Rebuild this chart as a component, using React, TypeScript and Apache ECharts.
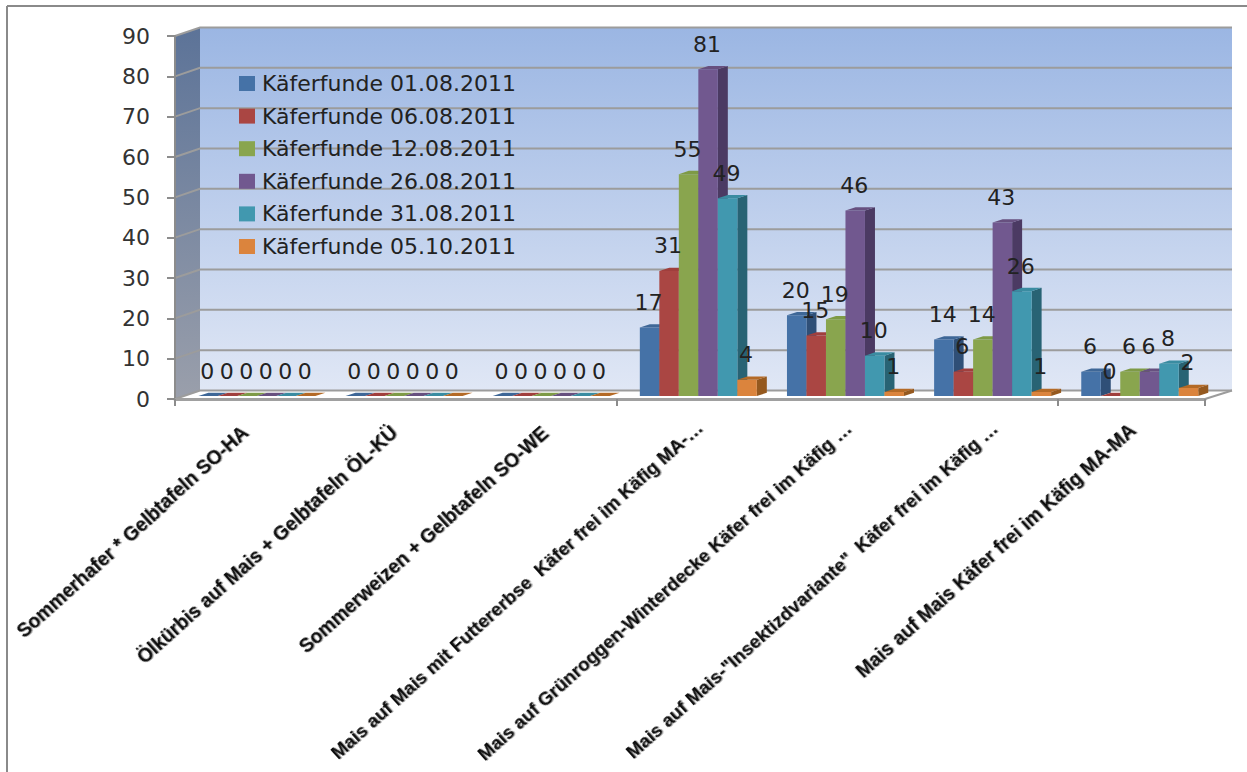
import React, { useEffect, useRef } from "react";
import * as echarts from "echarts";

const categories = [
  "Sommerhafer * Gelbtafeln SO-HA",
  "Ölkürbis auf Mais + Gelbtafeln ÖL-KÜ",
  "Sommerweizen + Gelbtafeln SO-WE",
  "Mais auf Mais mit Futtererbse  Käfer frei im Käfig MA-…",
  "Mais auf Grünroggen-Winterdecke Käfer frei im Käfig …",
  'Mais auf Mais-"Insektizdvariante"  Käfer frei im Käfig …',
  "Mais auf Mais Käfer frei im Käfig MA-MA",
];

const funde0108 = [0, 0, 0, 17, 20, 14, 6];
const funde0608 = [0, 0, 0, 31, 15, 6, 0];
const funde1208 = [0, 0, 0, 55, 19, 14, 6];
const funde2608 = [0, 0, 0, 81, 46, 43, 6];
const funde3108 = [0, 0, 0, 49, 10, 26, 8];
const funde0510 = [0, 0, 0, 4, 1, 1, 2];

const yTicks = [0, 10, 20, 30, 40, 50, 60, 70, 80, 90];

const seriesDefs = [
  { name: "Käferfunde 01.08.2011", values: funde0108, front: "#4572a7", side: "#2f4f77", top: "#3e6797" },
  { name: "Käferfunde 06.08.2011", values: funde0608, front: "#aa4643", side: "#7a302e", top: "#a03f3d" },
  { name: "Käferfunde 12.08.2011", values: funde1208, front: "#89a54e", side: "#617636", top: "#7e9a46" },
  { name: "Käferfunde 26.08.2011", values: funde2608, front: "#71588f", side: "#4b3a63", top: "#67507f" },
  { name: "Käferfunde 31.08.2011", values: funde3108, front: "#4198af", side: "#286374", top: "#3a8ca1" },
  { name: "Käferfunde 05.10.2011", values: funde0510, front: "#db843d", side: "#95591f", top: "#b46a26" },
];

// Oblique projection of the chart box: wall depth, bar depth and bar layout.
const WALL_DX = 25;
const WALL_DY = 8.5;
const BAR_LIFT = 3;
const BAR_DX = 10;
const BAR_DY = 3.3;
const BAR_INSET = 23.4;
const BAR_W = 19.5;
const LABEL_RISE = 25;

// Slanted category captions: angle, plus per-caption drop, sideways nudge and size.
const CAPTION_ANGLE = (42 * Math.PI) / 180;
const CAPTION_DROP = [31, 31, 31, 26, 26, 26, 28];
const CAPTION_NUDGE = [-3, -1, 2, 10, 11, 10, 1];
const CAPTION_SIZE = [19.3, 19.3, 19.3, 18.7, 18.7, 18.7, 19.3];

const GRID_COLOR = "#9c9c9c";

function wallItem(params: any, api: any) {
  const c = params.coordSys;
  const x0 = c.x;
  const x1 = c.x + c.width;
  const y0 = c.y;
  const y1 = c.y + c.height;
  return {
    type: "group",
    children: [
      {
        type: "polygon",
        shape: {
          points: [
            [x0 + WALL_DX, y0 - WALL_DY],
            [x1 + WALL_DX + 2, y0 - WALL_DY],
            [x1 + WALL_DX + 2, y1 - WALL_DY],
            [x0 + WALL_DX, y1 - WALL_DY],
          ],
        },
        style: {
          fill: new echarts.graphic.LinearGradient(0, 0, 0, 1, [
            { offset: 0, color: "#9bb6e3" },
            { offset: 1, color: "#e0e7f5" },
          ]),
        },
      },
      {
        type: "polygon",
        shape: {
          points: [
            [x0, y0],
            [x0 + WALL_DX, y0 - WALL_DY],
            [x0 + WALL_DX, y1 - WALL_DY],
            [x0, y1],
          ],
        },
        style: {
          fill: new echarts.graphic.LinearGradient(0, 0, 0, 1, [
            { offset: 0, color: "#5c7398" },
            { offset: 1, color: "#9a9fab" },
          ]),
        },
      },
      {
        type: "line",
        shape: { x1: x1, y1: y1, x2: x1 + WALL_DX + 2, y2: y1 - WALL_DY },
        style: { stroke: GRID_COLOR, lineWidth: 2 },
      },
    ],
  };
}

function gridLineItem(params: any, api: any) {
  const c = params.coordSys;
  const y = api.coord([0, api.value(1)])[1];
  return {
    type: "polyline",
    shape: {
      points: [
        [c.x, y],
        [c.x + WALL_DX, y - WALL_DY],
        [c.x + c.width + WALL_DX + 2, y - WALL_DY],
      ],
    },
    style: { stroke: GRID_COLOR, lineWidth: 2, fill: "none" },
  };
}

function barOrigin(api: any, slot: number) {
  const band = api.size([1, 0])[0];
  const center = api.coord([api.value(0), 0]);
  const x = center[0] - band / 2 + BAR_INSET + slot * BAR_W;
  return { x, base: center[1] - BAR_LIFT };
}

function barItem(slot: number, def: any) {
  return (params: any, api: any) => {
    const { x, base } = barOrigin(api, slot);
    const top = api.coord([api.value(0), api.value(1)])[1] - BAR_LIFT;
    const children: any[] = [];
    if (base - top > 0) {
      children.push(
        {
          type: "polygon",
          shape: {
            points: [
              [x + BAR_W, top],
              [x + BAR_W + BAR_DX, top - BAR_DY],
              [x + BAR_W + BAR_DX, base - BAR_DY],
              [x + BAR_W, base],
            ],
          },
          style: { fill: def.side },
        },
        { type: "rect", shape: { x, y: top, width: BAR_W, height: base - top }, style: { fill: def.front } },
      );
    }
    children.push({
      type: "polygon",
      shape: {
        points: [
          [x, top],
          [x + BAR_DX, top - BAR_DY],
          [x + BAR_W + BAR_DX, top - BAR_DY],
          [x + BAR_W, top],
        ],
      },
      style: { fill: def.top },
    });
    return { type: "group", children };
  };
}

function valueLabelItem(slot: number) {
  return (params: any, api: any) => {
    const { x } = barOrigin(api, slot);
    const top = api.coord([api.value(0), api.value(1)])[1] - BAR_LIFT;
    return {
      type: "text",
      style: {
        x: x + BAR_W / 2 - 1,
        y: top - LABEL_RISE,
        text: String(api.value(1)),
        fill: "#222222",
        font: '22px "DejaVu Sans"',
        align: "center",
        verticalAlign: "middle",
      },
    };
  };
}

function captionItem(params: any, api: any) {
  const i = api.value(0);
  const p = api.coord([i, 0]);
  return {
    type: "text",
    x: p[0] + CAPTION_NUDGE[i],
    y: p[1] + CAPTION_DROP[i],
    rotation: CAPTION_ANGLE,
    style: {
      text: categories[i],
      fill: "#0a0a0a",
      font: `bold ${CAPTION_SIZE[i]}px "Liberation Sans"`,
      align: "right",
      verticalAlign: "middle",
      textShadowColor: "rgba(0,0,0,0.35)",
      textShadowBlur: 1,
      textShadowOffsetX: 1,
      textShadowOffsetY: 1,
    },
  };
}

export default function App() {
  const ref = useRef<HTMLDivElement>(null);

  useEffect(() => {
    document.body.style.margin = "0";
    const chart = echarts.init(ref.current!, undefined, { renderer: "svg" });
    chart.setOption({
      animation: false,
      backgroundColor: "#ffffff",
      grid: { left: 175, right: 42, top: 36, bottom: 373, outerBoundsMode: "none" },
      legend: {
        show: true,
        orient: "vertical",
        left: 239,
        top: 72.5,
        padding: 0,
        z: 5,
        icon: "rect",
        itemWidth: 16,
        itemHeight: 15,
        itemGap: 10.6,
        textStyle: { fontFamily: "DejaVu Sans", fontSize: 22, color: "#222222", padding: [0, 0, 0, 2] },
        data: seriesDefs.map((d) => d.name),
        selectedMode: false,
      },
      xAxis: {
        type: "category",
        data: categories,
        z: 2,
        axisLine: { show: true, lineStyle: { color: "#a0a0a0", width: 3 } },
        axisTick: { show: true, length: 7, lineStyle: { color: "#8c8c8c", width: 2 } },
        axisLabel: { show: false },
      },
      yAxis: {
        type: "value",
        min: 0,
        max: 90,
        interval: 10,
        z: 2,
        axisLine: { show: true, lineStyle: { color: "#8c8c8c", width: 2 } },
        axisTick: { show: true, length: 8, lineStyle: { color: "#8c8c8c", width: 2 } },
        splitLine: { show: false },
        axisLabel: { margin: 25, fontFamily: "DejaVu Sans", fontSize: 22, color: "#333333" },
      },
      series: [
        { type: "custom", name: "Rückwand", z: 1, silent: true, renderItem: wallItem, data: [[0, 0]], encode: { x: 0, y: 1 } },
        {
          type: "custom",
          name: "Gitternetz",
          z: 1,
          silent: true,
          renderItem: gridLineItem,
          data: yTicks.map((v) => [0, v]),
          encode: { x: 0, y: 1 },
        },
        ...seriesDefs.map((def, slot) => ({
          type: "custom",
          name: def.name,
          z: 3,
          silent: true,
          itemStyle: { color: def.front },
          renderItem: barItem(slot, def),
          data: def.values.map((v, i) => [i, v]),
          encode: { x: 0, y: 1 },
        })),
        ...seriesDefs.map((def, slot) => ({
          type: "custom",
          name: def.name + " Werte",
          z: 6,
          silent: true,
          renderItem: valueLabelItem(slot),
          data: def.values.map((v, i) => [i, v]),
          encode: { x: 0, y: 1 },
        })),
        {
          type: "custom",
          name: "Beschriftung",
          z: 6,
          silent: true,
          renderItem: captionItem,
          data: categories.map((_, i) => [i, 0]),
          encode: { x: 0, y: 1 },
        },
      ],
      graphic: [
        { type: "line", shape: { x1: 7, y1: 6, x2: 1247, y2: 6 }, style: { stroke: "#8a8a8a", lineWidth: 2 } },
        { type: "line", shape: { x1: 7, y1: 6, x2: 7, y2: 772 }, style: { stroke: "#8a8a8a", lineWidth: 2 } },
        {
          type: "rect",
          shape: { x: 906, y: 46, width: 308, height: 61 },
          style: { fill: "#ffffff", stroke: "#000000", lineWidth: 2 },
        },
        {
          type: "text",
          style: {
            x: 928,
            y: 78,
            text: "Versuchsreihe 2 b",
            fill: "#000000",
            font: '29px "Liberation Sans"',
            align: "left",
            verticalAlign: "middle",
          },
        },
      ],
    });
    return () => chart.dispose();
  }, []);

  return <div ref={ref} style={{ width: 1247, height: 772 }} />;
}
